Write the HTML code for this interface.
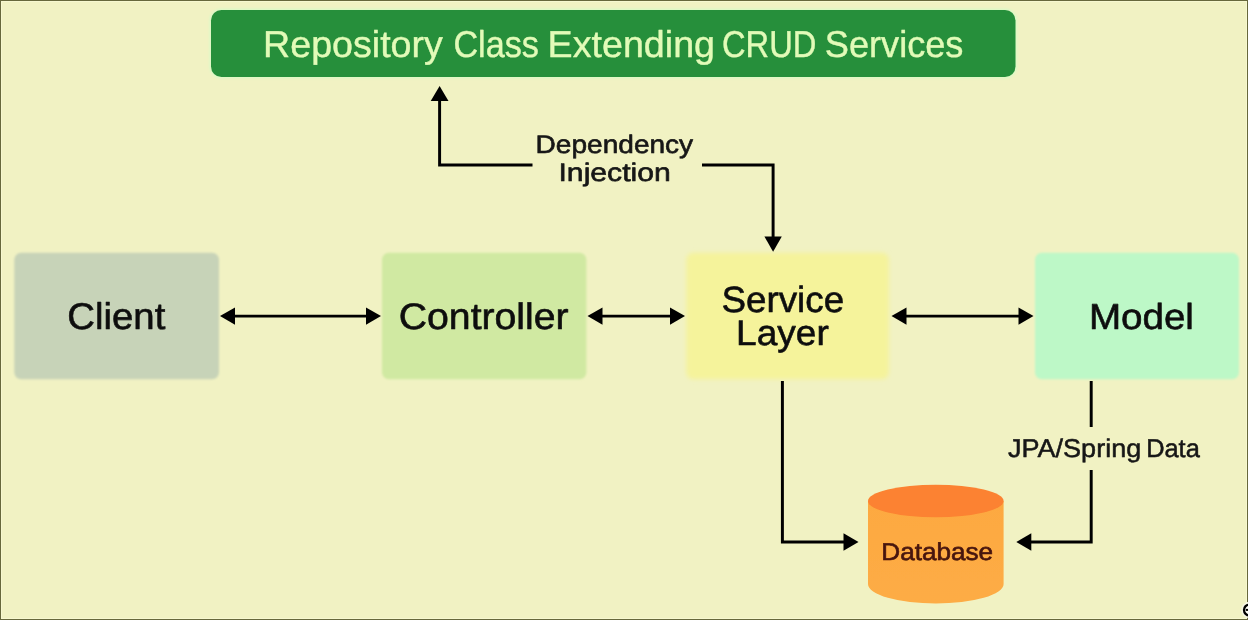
<!DOCTYPE html>
<html lang="en">
<head>
<meta charset="utf-8">
<title>Spring Boot Architecture Flow</title>
<style>
  html, body { margin: 0; padding: 0; background: #f1f2c3; }
  body { width: 1248px; height: 620px; overflow: hidden; position: relative; }
  svg { display: block; position: absolute; left: 0; top: 0; }
  text { font-family: "Liberation Sans", sans-serif; stroke-linejoin: round; text-rendering: geometricPrecision; }
</style>
</head>
<body>
<svg width="1248" height="620" viewBox="0 0 1248 620">
  <defs>
    <filter id="soft" x="-5%" y="-5%" width="110%" height="110%">
      <feGaussianBlur stdDeviation="0.9"/>
    </filter>
    <filter id="soft2" x="-5%" y="-5%" width="110%" height="110%">
      <feGaussianBlur stdDeviation="1.2"/>
    </filter>
    <filter id="soft3" x="-5%" y="-5%" width="110%" height="110%">
      <feGaussianBlur stdDeviation="2.0"/>
    </filter>
    <filter id="softer" x="-5%" y="-5%" width="110%" height="110%">
      <feGaussianBlur stdDeviation="0.6"/>
    </filter>
    <filter id="tblur" x="-5%" y="-20%" width="110%" height="140%">
      <feGaussianBlur stdDeviation="0.35"/>
    </filter>
    <linearGradient id="dbBody" x1="0" y1="0" x2="0" y2="1">
      <stop offset="0" stop-color="#fda941"/>
      <stop offset="1" stop-color="#fdac45"/>
    </linearGradient>
  </defs>

  <!-- background -->
  <rect x="0" y="0" width="1248" height="620" fill="#f1f2c3"/>

  <!-- title box -->
  <g filter="url(#soft)">
    <rect x="209.4" y="8.4" width="807.7" height="70.2" rx="12" ry="12" fill="#dcf9c6"/>
  </g>
  <g filter="url(#softer)">
    <rect x="211" y="10" width="804.5" height="67" rx="10.5" ry="10.5" fill="#258f3a"/>
  </g>
  <g filter="url(#tblur)">
    <text x="263.11" y="57.10" font-size="37.39" textLength="179.72" lengthAdjust="spacingAndGlyphs" fill="#e2fbb8" stroke="#e2fbb8" stroke-width="0.4">Repository</text>
    <text x="453.40" y="57.10" font-size="37.39" textLength="85.49" lengthAdjust="spacingAndGlyphs" fill="#e2fbb8" stroke="#e2fbb8" stroke-width="0.4">Class</text>
    <text x="547.61" y="57.10" font-size="37.39" textLength="167.45" lengthAdjust="spacingAndGlyphs" fill="#e2fbb8" stroke="#e2fbb8" stroke-width="0.4">Extending</text>
    <text x="721.96" y="57.10" font-size="37.39" textLength="94.37" lengthAdjust="spacingAndGlyphs" fill="#e2fbb8" stroke="#e2fbb8" stroke-width="0.4">CRUD</text>
    <text x="824.76" y="57.10" font-size="37.39" textLength="138.72" lengthAdjust="spacingAndGlyphs" fill="#e2fbb8" stroke="#e2fbb8" stroke-width="0.4">Services</text>
  </g>

  <!-- boxes -->
  <g filter="url(#soft)">
    <rect x="14.3" y="252.8" width="204.7" height="126.4" rx="7" fill="#c7d3b8"/>
    <rect x="382" y="252.8" width="204.4" height="126.4" rx="7" fill="#d0e9a2"/>
  </g>
  <g filter="url(#soft2)">
    <rect x="1035" y="252.8" width="204" height="126.4" rx="7" fill="#bdf8c7"/>
  </g>
  <g filter="url(#soft3)">
    <rect x="686.3" y="252.8" width="202.6" height="126.4" rx="7" fill="#f5f39b"/>
  </g>

  <!-- box labels -->
  <g filter="url(#tblur)">
    <text x="67.29" y="328.90" font-size="37.25" textLength="98.04" lengthAdjust="spacingAndGlyphs" fill="#0d0d0d" stroke="#0d0d0d" stroke-width="0.6">Client</text>
    <text x="398.76" y="328.90" font-size="36.96" textLength="169.87" lengthAdjust="spacingAndGlyphs" fill="#0d0d0d" stroke="#0d0d0d" stroke-width="0.6">Controller</text>
    <text x="721.44" y="311.60" font-size="36.38" textLength="122.73" lengthAdjust="spacingAndGlyphs" fill="#0d0d0d" stroke="#0d0d0d" stroke-width="0.6">Service</text>
    <text x="736.05" y="344.60" font-size="35.65" textLength="92.74" lengthAdjust="spacingAndGlyphs" fill="#0d0d0d" stroke="#0d0d0d" stroke-width="0.6">Layer</text>
    <text x="1088.90" y="328.60" font-size="36.09" textLength="105.04" lengthAdjust="spacingAndGlyphs" fill="#0d0d0d" stroke="#0d0d0d" stroke-width="0.6">Model</text>
  </g>

  <!-- connector lines -->
  <g stroke="#000" stroke-width="2.95" fill="none" stroke-linejoin="miter" stroke-linecap="butt" filter="url(#tblur)">
    <line x1="232" y1="316.1" x2="369" y2="316.1"/>
    <line x1="600" y1="316.1" x2="673" y2="316.1"/>
    <line x1="904" y1="316.1" x2="1021" y2="316.1"/>
    <polyline points="439.6,99 439.6,165 532.5,165"/>
    <polyline points="702,165 773.1,165 773.1,239"/>
    <polyline points="782.4,381 782.4,542 845,542"/>
    <line x1="1091.2" y1="381" x2="1091.2" y2="427"/>
    <polyline points="1091.2,470 1091.2,542 1029,542"/>
  </g>
  <!-- arrow heads -->
  <g fill="#000" filter="url(#tblur)">
    <polygon points="220,316.1 235,307.5 235,324.7"/>
    <polygon points="381,316.1 366,307.5 366,324.7"/>
    <polygon points="587.5,316.1 602.5,307.5 602.5,324.7"/>
    <polygon points="685,316.1 670,307.5 670,324.7"/>
    <polygon points="891.5,316.1 906.5,307.5 906.5,324.7"/>
    <polygon points="1033.5,316.1 1018.5,307.5 1018.5,324.7"/>
    <polygon points="439.6,86 430.7,101 448.5,101"/>
    <polygon points="773.1,251.8 764.4,236.4 781.8,236.4"/>
    <polygon points="858.5,542 843.5,533.2 843.5,550.8"/>
    <polygon points="1016.3,542 1031.3,533.2 1031.3,550.8"/>
  </g>

  <!-- small labels -->
  <g filter="url(#tblur)">
    <text x="535.61" y="152.90" font-size="25.36" textLength="157.55" lengthAdjust="spacingAndGlyphs" fill="#151515" stroke="#151515" stroke-width="0.6">Dependency</text>
    <text x="558.48" y="181.30" font-size="25.36" textLength="112.42" lengthAdjust="spacingAndGlyphs" fill="#151515" stroke="#151515" stroke-width="0.6">Injection</text>
    <text x="1008.06" y="456.65" font-size="25.65" textLength="133.16" lengthAdjust="spacingAndGlyphs" fill="#151515" stroke="#151515" stroke-width="0.5">JPA/Spring</text>
    <text x="1146.14" y="456.65" font-size="25.65" textLength="53.64" lengthAdjust="spacingAndGlyphs" fill="#151515" stroke="#151515" stroke-width="0.5">Data</text>
  </g>

  <!-- database cylinder -->
  <g filter="url(#softer)">
    <path d="M868,501 L868,584 A67.8,19.5 0 0 0 1003.6,584 L1003.6,501 Z" fill="url(#dbBody)"/>
    <ellipse cx="935.8" cy="501" rx="67.8" ry="16.2" fill="#fc8230"/>
  </g>
  <g filter="url(#tblur)">
    <text x="881.35" y="560.20" font-size="24.35" textLength="111.81" lengthAdjust="spacingAndGlyphs" fill="#45140a" stroke="#45140a" stroke-width="0.6">Database</text>
  </g>

  <!-- outer frame -->
  <rect x="0.5" y="0.5" width="1247" height="619" fill="none" stroke="#67683c" stroke-width="1"/>
  <rect x="1.5" y="1.5" width="1245" height="617" fill="none" stroke="#fafbd6" stroke-width="1" opacity="0.7"/>

  <!-- zoom icon clipped at the bottom-right corner -->
  <g filter="url(#tblur)">
    <circle cx="1249.4" cy="610" r="8.3" fill="#f7f7e4"/>
    <circle cx="1249.4" cy="610" r="5.4" fill="#fdfdf6" stroke="#000" stroke-width="2.3"/>
    <line x1="1245.8" y1="609.9" x2="1253" y2="609.9" stroke="#000" stroke-width="2"/>
  </g>
</svg>
</body>
</html>
